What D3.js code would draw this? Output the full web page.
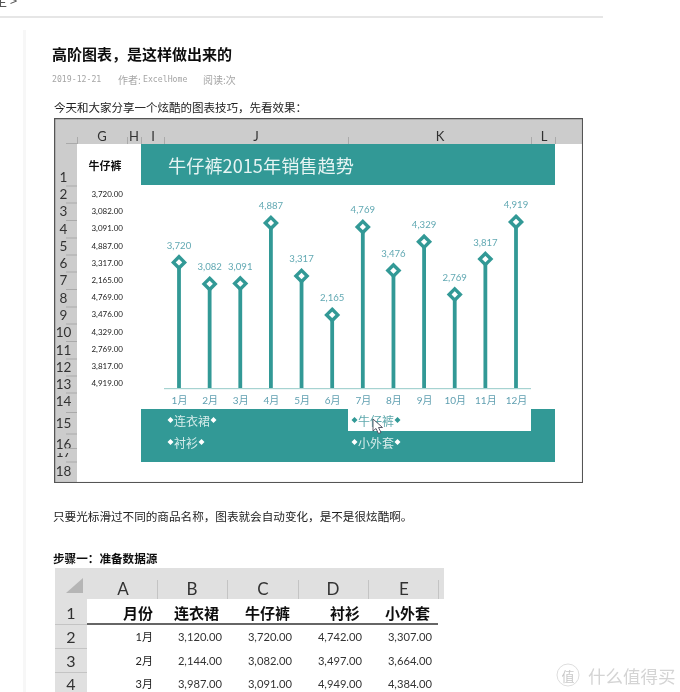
<!DOCTYPE html>
<html><head><meta charset="utf-8">
<script src="https://cdn.jsdelivr.net/npm/d3@7/dist/d3.min.js"></script>
<style>
html,body{margin:0;padding:0;background:#fff;overflow:hidden}
svg{display:block;font-family:Lato,"Noto Sans CJK SC",sans-serif}
</style></head><body><div id="c"></div>
<script>
const months=["1月","2月","3月","4月","5月","6月","7月","8月","9月","10月","11月","12月"];
const jeans=[3720,3082,3091,4887,3317,2165,4769,3476,4329,2769,3817,4919];
const products=["连衣裙","牛仔裤","衬衫","小外套"];
const columnLetters=["G","H","I","J","K","L","M"];
const rowNumbers=d3.range(1,19);
const tableColumns=["A","B","C","D","E"];
const tableHeader=["月份","连衣裙","牛仔裤","衬衫","小外套"];
const tableMonths=["1月","2月","3月"];
const tableDress=[3120,2144,3987];
const tableJeans=[3720,3082,3091];
const tableShirt=[4742,3497,4949];
const tableCoat=[3307,3664,4384];
const chartTitle="牛仔裤2015年销售趋势";

const teal="#329996", cjk='"Noto Sans CJK SC",sans-serif';
const svg=d3.select("#c").append("svg").attr("width",680).attr("height",692);
const defs=svg.append("defs");
defs.append("filter").attr("id","soft").append("feGaussianBlur").attr("stdDeviation",0.35);
defs.append("clipPath").attr("id","sheetClip").append("rect").attr("x",54).attr("y",118).attr("width",529).attr("height",365);
defs.append("clipPath").attr("id","row17").append("rect").attr("x",54).attr("y",453).attr("width",23).attr("height",5);
const root=svg.append("g").attr("filter","url(#soft)");
function txt(p,s,x,y,size,fill,opt={}){
  return p.append("text").attr("x",x).attr("y",y).attr("font-size",size).attr("fill",fill)
   .attr("dominant-baseline","central").attr("text-anchor",opt.a||"start")
   .attr("font-weight",opt.w||400).attr("font-family",opt.f||null).text(s);
}
function rect(p,x,y,w,h,f){return p.append("rect").attr("x",x).attr("y",y).attr("width",w).attr("height",h).attr("fill",f);}

// page chrome
txt(root,"主 >",-6,0,13,"#555",{f:cjk});
rect(root,0,16,603,2,"#e6e6e6");
rect(root,23,30,3,662,"#f7f7f7");
txt(root,"高阶图表，是这样做出来的",52,53,15,"#111",{w:700,f:cjk});
txt(root,"2019-12-21",52,79,8.2,"#a5a5a5",{f:'"DejaVu Sans Mono",monospace'});
txt(root,"作者:",118,79,10,"#a5a5a5",{f:cjk});
txt(root,"ExcelHome",143,79,8.2,"#a5a5a5",{f:'"DejaVu Sans Mono",monospace'});
txt(root,"阅读:次",203,79,10,"#a5a5a5",{f:cjk});
txt(root,"今天和大家分享一个炫酷的图表技巧，先看效果：",54,107,11.5,"#222",{f:cjk});
txt(root,"只要光标滑过不同的商品名称，图表就会自动变化，是不是很炫酷啊。",53,516,11.6,"#222",{f:cjk});
txt(root,"步骤一：准备数据源",53,558,11.6,"#111",{w:700,f:cjk});

// spreadsheet screenshot
const sheet=root.append("g").attr("clip-path","url(#sheetClip)");
rect(sheet,54,118,529,365,"#fff");
rect(sheet,54,118,529,26,"#cccccc");
rect(sheet,54,118,23,365,"#cccccc");
const colX=[102,134,153,256,440,544,588];
sheet.selectAll(".col").data(columnLetters).join("text").attr("class","col")
  .attr("x",(d,i)=>colX[i]).attr("y",136).attr("text-anchor","middle").attr("dominant-baseline","central")
  .attr("font-size",13).attr("fill","#333").text(d=>d);
[77,127,141,164,348,531,555].forEach(x=>rect(sheet,x,137,1,7,"#aaa"));
const rowY=[177,194,211,229,246,263,280,298,315,332,350,367,384,401,423,444,452,471];
sheet.selectAll(".row").data(rowNumbers).join("text").attr("class","row")
  .attr("x",63.5).attr("y",(d,i)=>rowY[i]).attr("text-anchor","middle").attr("dominant-baseline","central")
  .attr("font-size",13.5).attr("fill","#333")
  .attr("clip-path",(d,i)=>i==16?"url(#row17)":null).text(d=>d);
rowY.forEach((y,i)=>{ if(i<17) rect(sheet,66,y+(rowY[i+1]-y)/2,11,1,"#aaa"); });
rect(sheet,66,143,11,1,"#aaa");
sheet.append("rect").attr("x",54.6).attr("y",118.6).attr("width",528).attr("height",364)
  .attr("fill","none").attr("stroke","#555").attr("stroke-width",1.3);

// helper column
txt(sheet,"牛仔裤",105,165,11,"#111",{a:"middle",w:700,f:cjk});
const fmt2=d3.format(",.2f"), fmt0=d3.format(",");
sheet.selectAll(".v").data(jeans).join("text").attr("class","v")
  .attr("x",123).attr("y",(d,i)=>194+i*17.2).attr("text-anchor","end").attr("dominant-baseline","central")
  .attr("font-size",8).attr("fill","#222").text(fmt2);

// title band
rect(sheet,141,144,414,41,teal);
txt(sheet,chartTitle,168,165,18.2,"#e6f4f3",{f:cjk});

// chart
const x=d3.scalePoint().domain(months).range([179,516]);
const y=d3.scaleLinear().domain([0,5000]).range([388,219.15]);
const chart=sheet.append("g");
chart.selectAll(".stem").data(jeans).join("line").attr("class","stem")
  .attr("x1",(d,i)=>x(months[i])).attr("x2",(d,i)=>x(months[i]))
  .attr("y1",y(0)).attr("y2",d=>y(d)).attr("stroke",teal).attr("stroke-width",3.8);
const ax=chart.append("g").attr("transform",`translate(0,${y(0)})`)
  .call(d3.axisBottom(x).tickSize(0).tickPadding(6));
ax.select(".domain").remove();
rect(chart,164,388,367,1.2,"#a6d3d1");
ax.selectAll("text").attr("font-size",10).attr("fill","#5f9fb0").attr("dy",0)
  .attr("y",12).attr("dominant-baseline","central").attr("font-family",'Lato,"Noto Sans CJK SC",sans-serif');
chart.selectAll(".mk").data(jeans).join("path").attr("class","mk")
  .attr("d",d3.symbol(d3.symbolDiamond2,80))
  .attr("transform",(d,i)=>`translate(${x(months[i])},${y(d)})`)
  .attr("fill","#fff").attr("stroke",teal).attr("stroke-width",3.4);
chart.selectAll(".lb").data(jeans).join("text").attr("class","lb")
  .attr("x",(d,i)=>x(months[i])).attr("y",d=>y(d)-17).attr("text-anchor","middle").attr("dominant-baseline","central")
  .attr("font-size",9.6).attr("fill","#62a9b3").text(fmt0);

// selector panel
rect(sheet,141,409,414,53,teal);
rect(sheet,348,409,183,22,"#fff");
const slotX=[174,358,174,358], slotY=[420,420,442,442];
products.forEach((p,i)=>{
  const col=i==1?"#5fa9ad":"#d5ecea", dot=i==1?teal:"#fff";
  txt(sheet,p,slotX[i],slotY[i],12,col,{f:cjk});
  [slotX[i]-3.5,slotX[i]+p.length*12+3.5].forEach(dx=>sheet.append("path").attr("d",d3.symbol(d3.symbolSquare,18))
    .attr("transform",`translate(${dx},${slotY[i]}) rotate(45)`).attr("fill",dot));
});
sheet.append("path").attr("d","M373,419 v12 l3,-2.5 l2.5,5 l2.5,-1 l-2.5,-5 h4 z")
  .attr("fill","#fff").attr("stroke","#4a4a5a").attr("stroke-width",0.9);

// data table screenshot
const tb=root.append("g");
rect(tb,55,568,389,124,"#fff");
rect(tb,55,568,389,31,"#e0e0e0");
rect(tb,55,568,32,124,"#e0e0e0");
tb.append("path").attr("d","M83,593 H66 L83,578 Z").attr("fill","#b5b5b5");
const letterX=[123,192,263,333,404], tickX=[157,227,298,368,438];
tb.selectAll(".tl").data(tableColumns).join("text").attr("class","tl")
  .attr("x",(d,i)=>letterX[i]).attr("y",588).attr("text-anchor","middle").attr("dominant-baseline","central")
  .attr("font-size",17).attr("fill","#333").text(d=>d);
tickX.forEach(t=>rect(tb,t,580,1,19,"#c4c4c4"));
const tableRows=[1,2,3,4], trY=[612,636,660,683];
tb.selectAll(".tr").data(tableRows).join("text").attr("class","tr")
  .attr("x",71).attr("y",(d,i)=>trY[i]).attr("text-anchor","middle").attr("dominant-baseline","central")
  .attr("font-size",16).attr("fill","#333").text(d=>d);
[624,648,672].forEach(v=>rect(tb,55,v,32,1,"#c4c4c4"));
const hdrR=[153,219,290,360,430];
tableHeader.forEach((h,i)=>txt(tb,h,hdrR[i],612,15,"#111",{a:"end",w:700,f:cjk}));
rect(tb,87,623,351,2,"#666");
const valR=[222,292,362,432];
tableMonths.forEach((m,r)=>{
  txt(tb,m,153,trY[r+1],11,"#222",{a:"end",f:'Lato,"Noto Sans CJK SC",sans-serif'});
  [tableDress,tableJeans,tableShirt,tableCoat].forEach((col,c)=>
    txt(tb,fmt2(col[r]),valR[c],trY[r+1],11.2,"#333",{a:"end"}));
});

// watermark
root.append("circle").attr("cx",568).attr("cy",675).attr("r",11).attr("fill","#fff").attr("stroke","#ddd");
txt(root,"值",568,675,13,"#c8c8c8",{a:"middle",f:cjk});
txt(root,"什么值得买",588,675,17.5,"#d4d4d4",{f:cjk});
</script></body></html>
